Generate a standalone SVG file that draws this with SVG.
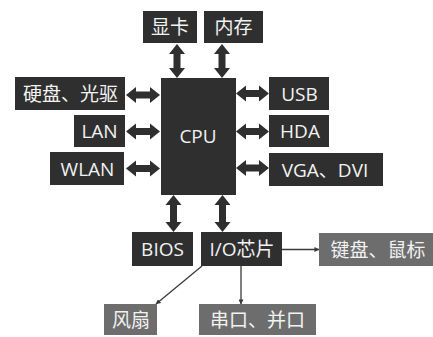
<svg xmlns="http://www.w3.org/2000/svg" width="433" height="337" viewBox="0 0 433 337">
<defs>
<style>
.dk{fill:#2f2f2f}
.gy{fill:#6d6d6d}
text{font-family:"Open Sans","Noto Sans CJK SC",sans-serif;font-size:19px;fill:#f2f2f2;text-anchor:middle}
.big{fill:#2f2f2f}
.thin{stroke:#3a3a3a;stroke-width:1.3;fill:none;marker-end:url(#ah)}
</style>
<marker id="ah" viewBox="0 0 6 6" refX="5.5" refY="3" markerWidth="5" markerHeight="5" markerUnits="userSpaceOnUse" orient="auto">
<path d="M0,0 L6,3 L0,6 z" fill="#3a3a3a"/>
</marker>
</defs>
<rect width="433" height="337" fill="#ffffff"/>
<g id="connectors">
<polygon class="big" points="126,95 136,87 136,91.5 150,91.5 150,87 160,95 150,103 150,98.5 136,98.5 136,103"/>
<polygon class="big" points="126,131.5 136,123.5 136,128 150,128 150,123.5 160,131.5 150,139.5 150,135 136,135 136,139.5"/>
<polygon class="big" points="126,168.5 136,160.5 136,165 150,165 150,160.5 160,168.5 150,176.5 150,172 136,172 136,176.5"/>
<polygon class="big" points="236,93.5 246,85.5 246,90 259,90 259,85.5 269,93.5 259,101.5 259,97 246,97 246,101.5"/>
<polygon class="big" points="236,131.5 246,123.5 246,128 259,128 259,123.5 269,131.5 259,139.5 259,135 246,135 246,139.5"/>
<polygon class="big" points="236,168 246,160 246,164.5 259,164.5 259,160 269,168 259,176 259,171.5 246,171.5 246,176"/>
<polygon class="big" points="177,44 185,54 180.5,54 180.5,68 185,68 177,78 169,68 173.5,68 173.5,54 169,54"/>
<polygon class="big" points="222,44 230,54 225.5,54 225.5,68 230,68 222,78 214,68 218.5,68 218.5,54 214,54"/>
<polygon class="big" points="173.5,195 181.5,205 177,205 177,222 181.5,222 173.5,232 165.5,222 170,222 170,205 165.5,205"/>
<polygon class="big" points="222.5,195 230.5,205 226,205 226,222 230.5,222 222.5,232 214.5,222 219,222 219,205 214.5,205"/>
<line class="thin" x1="282" y1="249.5" x2="319" y2="249.5"/>
<line class="thin" x1="202" y1="266" x2="156" y2="304"/>
<line class="thin" x1="241" y1="266" x2="241" y2="304"/>
</g>
<g id="gpu"><rect class="dk" x="143" y="11" width="54" height="32"/><text x="170" y="34">显卡</text></g>
<g id="mem"><rect class="dk" x="204" y="11" width="59" height="32"/><text x="233.5" y="34">内存</text></g>
<g id="cpu"><rect class="dk" x="161" y="78" width="75" height="117"/><text x="198" y="143">CPU</text></g>
<g id="disk"><rect class="dk" x="15" y="77" width="110" height="33"/><text x="70.5" y="100.5">硬盘、光驱</text></g>
<g id="lan"><rect class="dk" x="74" y="115" width="51" height="32"/><text x="99.5" y="138">LAN</text></g>
<g id="wlan"><rect class="dk" x="50" y="152" width="74" height="33"/><text x="87.5" y="175.5">WLAN</text></g>
<g id="usb"><rect class="dk" x="269" y="77" width="60" height="33"/><text x="299.5" y="100.5">USB</text></g>
<g id="hda"><rect class="dk" x="269" y="115" width="60" height="32"/><text x="300" y="138">HDA</text></g>
<g id="vga"><rect class="dk" x="269" y="153" width="114" height="33"/><text x="325" y="176.5">VGA、DVI</text></g>
<g id="bios"><rect class="dk" x="132" y="232" width="61" height="34"/><text x="162.5" y="256">BIOS</text></g>
<g id="io"><rect class="dk" x="201" y="232" width="81" height="34"/><text x="242" y="256">I/O芯片</text></g>
<g id="kbd"><rect class="gy" x="319" y="233" width="114" height="33"/><text x="378" y="256.5">键盘、鼠标</text></g>
<g id="fan"><rect class="gy" x="104" y="304" width="53" height="31"/><text x="131" y="326.5">风扇</text></g>
<g id="port"><rect class="gy" x="199" y="304" width="117" height="31"/><text x="257.5" y="326.5">串口、并口</text></g>
</svg>
